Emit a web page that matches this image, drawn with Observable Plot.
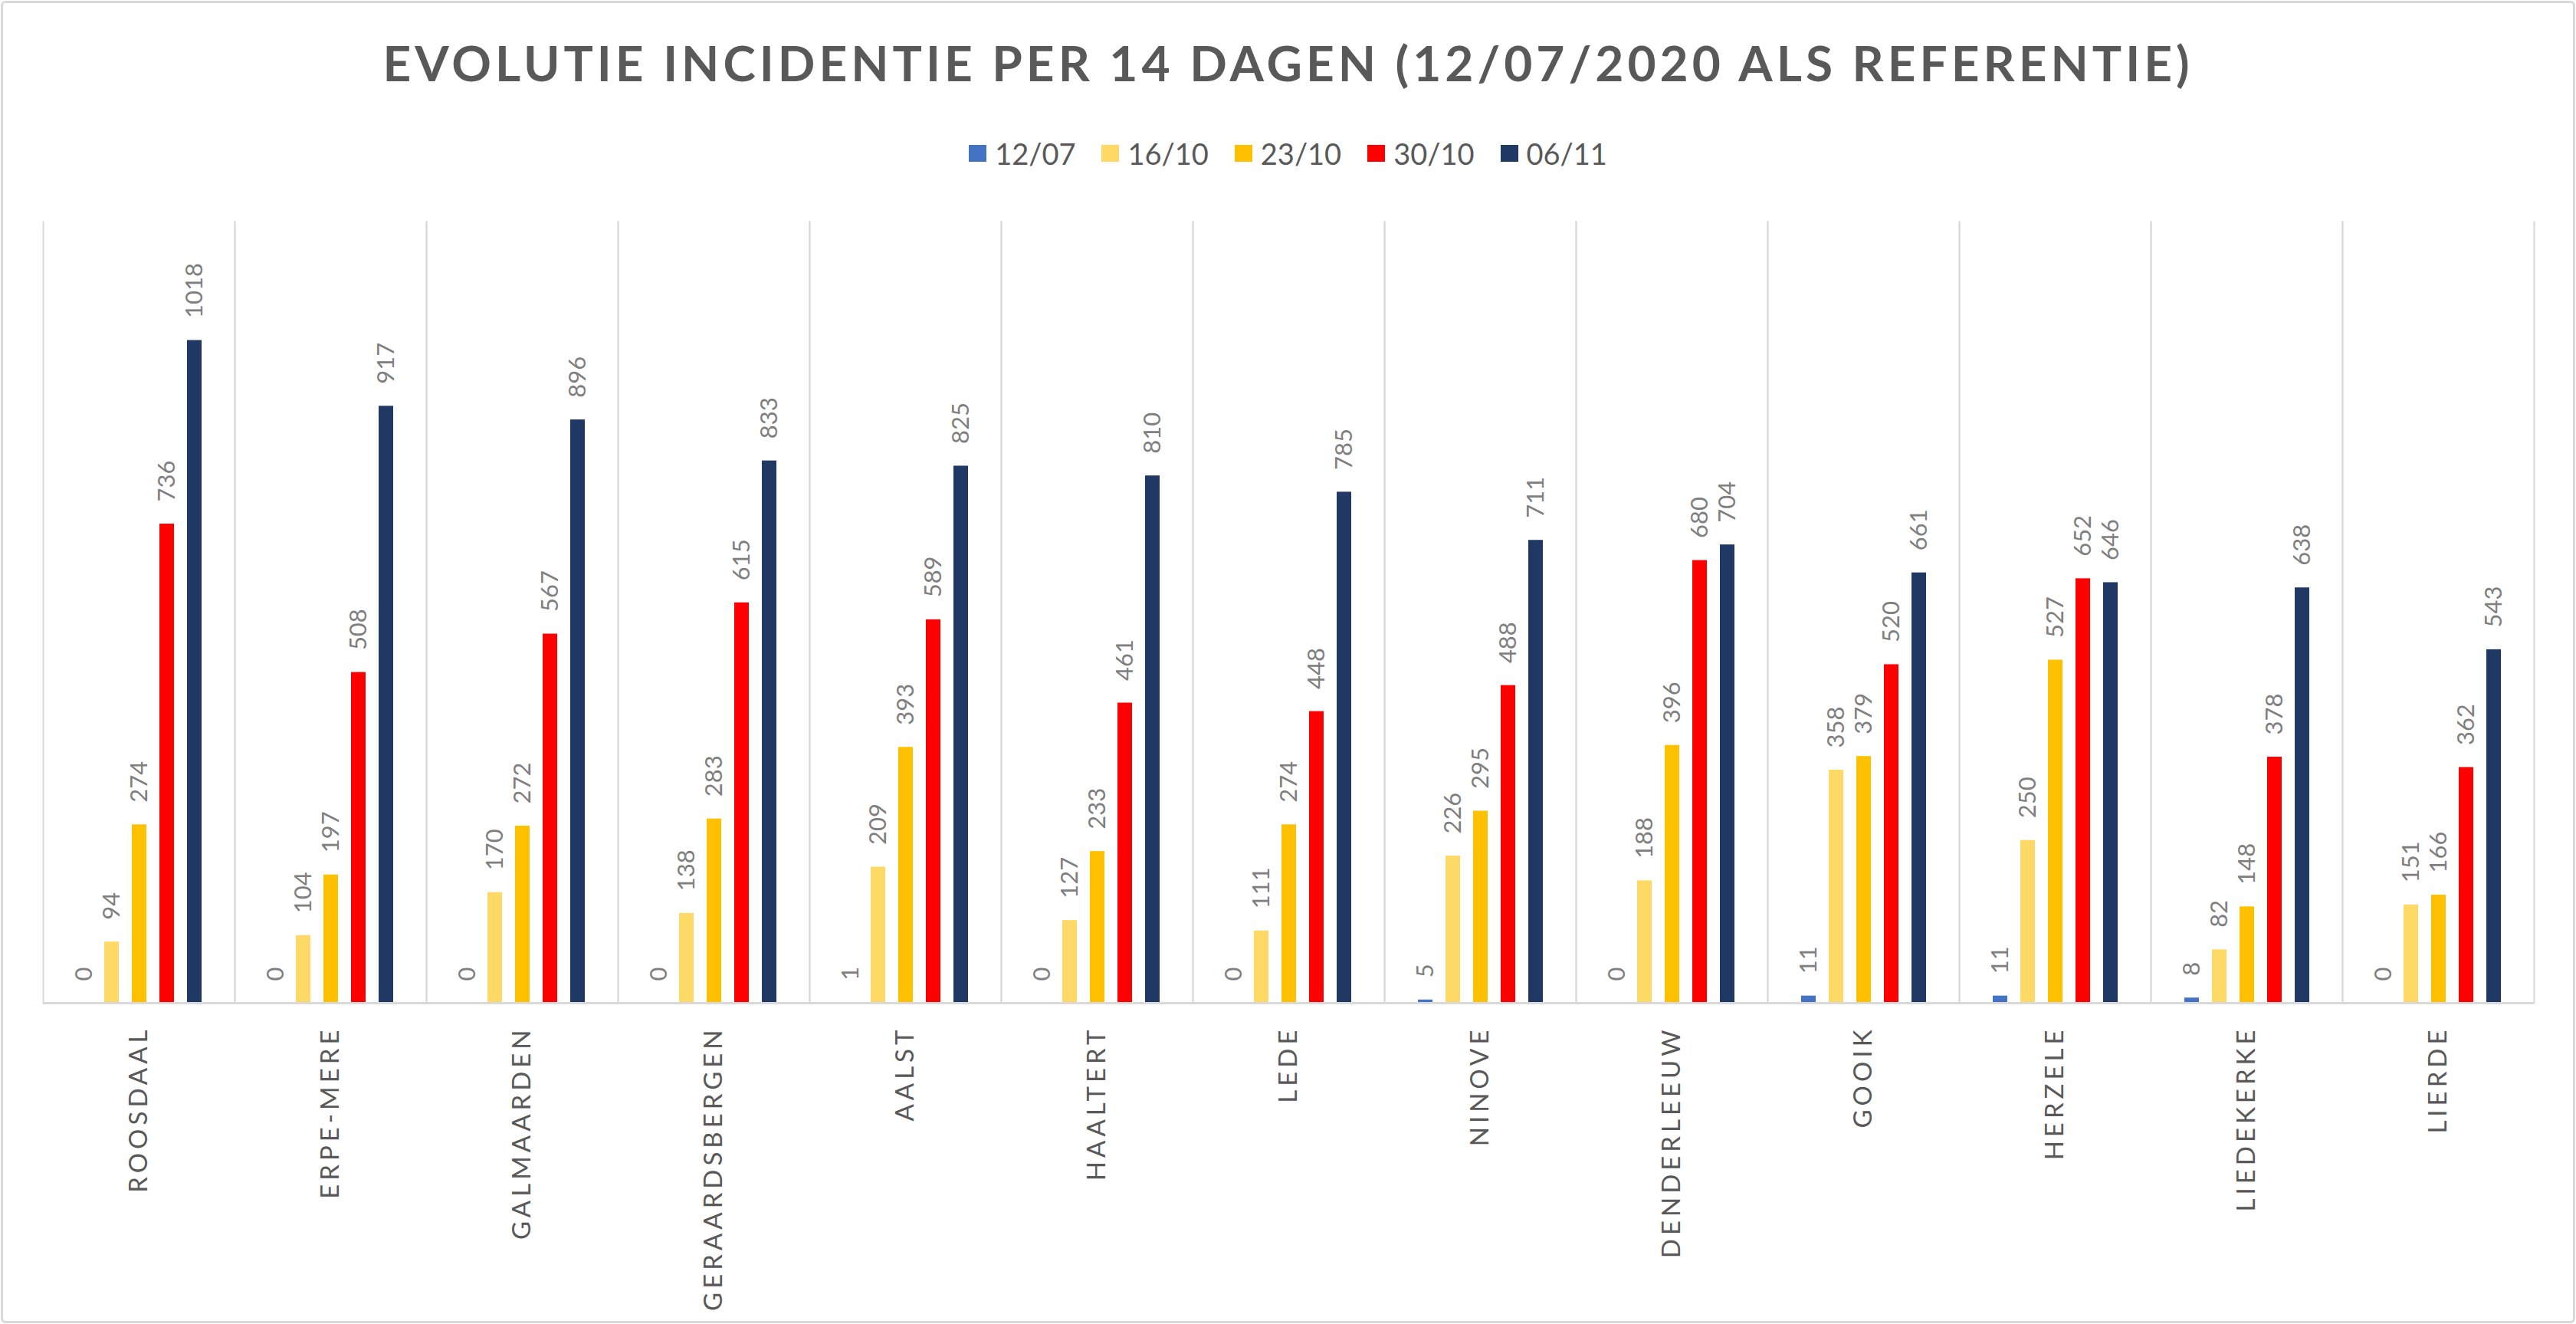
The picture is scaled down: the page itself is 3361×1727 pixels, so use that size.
<!DOCTYPE html>
<html><head><meta charset="utf-8">
<script src="https://cdn.jsdelivr.net/npm/d3@7"></script>
<script src="https://cdn.jsdelivr.net/npm/@observablehq/plot@0.6"></script>
<style>
html,body{margin:0;padding:0;background:#fff;}
#wrap{position:relative;width:3361px;height:1727px;overflow:hidden;background:#fff;}
#border{position:absolute;left:1px;top:1px;width:3359px;height:1725px;box-sizing:border-box;border:3px solid #d9d9d9;border-radius:6px;}
#title{position:absolute;left:0;width:3361px;top:50px;text-align:center;font-family:Lato;font-weight:700;font-size:64px;letter-spacing:5px;color:#595959;line-height:64px;white-space:nowrap;}
#legend{position:absolute;left:0;width:3361px;top:178px;display:flex;justify-content:center;gap:34px;font-family:Lato;font-size:38px;color:#595959;line-height:44px;}
.item{display:flex;align-items:center;gap:11px}
.sw{width:23px;height:22px;}
#chart{position:absolute;left:0;top:250px;}
#chart g[aria-label^="fx-axis"] text{letter-spacing:5px;}
</style></head><body>
<div id="wrap">
<div id="border"></div>
<div id="title">EVOLUTIE INCIDENTIE PER 14 DAGEN (12/07/2020 ALS REFERENTIE)</div>
<div id="legend"></div>
<div id="chart"></div>
</div>
<script>
const municipalities = ["ROOSDAAL","ERPE-MERE","GALMAARDEN","GERAARDSBERGEN","AALST","HAALTERT","LEDE","NINOVE","DENDERLEEUW","GOOIK","HERZELE","LIEDEKERKE","LIERDE"];
const series = ["12/07","16/10","23/10","30/10","06/11"];
const colors = ["#4472C4","#FFD966","#FFC000","#FF0000","#203864"];
const v1207 = [0,0,0,0,1,0,0,5,0,11,11,8,0];
const v1610 = [94,104,170,138,209,127,111,226,188,358,250,82,151];
const v2310 = [274,197,272,283,393,233,274,295,396,379,527,148,166];
const v3010 = [736,508,567,615,589,461,448,488,680,520,652,378,362];
const v0611 = [1018,917,896,833,825,810,785,711,704,661,646,638,543];
const seriesValues = [v1207, v1610, v2310, v3010, v0611];

const table = [];
municipalities.forEach((m, i) => {
  series.forEach((s, j) => table.push({muni: m, series: s, value: seriesValues[j][i]}));
});

// legend
const legend = document.getElementById("legend");
series.forEach((s, j) => {
  const it = document.createElement("div"); it.className = "item";
  const sw = document.createElement("div"); sw.className = "sw"; sw.style.background = colors[j];
  const tx = document.createElement("span"); tx.textContent = s;
  it.appendChild(sw); it.appendChild(tx); legend.appendChild(it);
});

const chart = Plot.plot({
  width: 3361, height: 1470,
  marginTop: 39, marginBottom: 412, marginLeft: 52, marginRight: 52,
  style: {fontFamily: "Lato", fontSize: "33px", color: "#595959", background: "transparent"},
  fx: {domain: municipalities, padding: 0, axis: "bottom", tickRotate: -90, tickSize: 0, tickPadding: 30, label: null},
  x: {domain: series, paddingInner: 0.486, paddingOuter: 1.13, axis: null},
  y: {domain: [0, 1200], axis: null},
  color: {domain: series, range: colors},
  marks: [
    Plot.frame({anchor: "left", stroke: "#d9d9d9", strokeWidth: 2}),
    Plot.frame({anchor: "right", stroke: "#d9d9d9", strokeWidth: 2}),
    Plot.barY(table, {fx: "muni", x: "series", y: "value", fill: "series"}),
    Plot.ruleY([0], {stroke: "#d9d9d9", strokeWidth: 3}),
    Plot.text(table, {fx: "muni", x: "series", y: "value", text: d => String(d.value), rotate: -90, textAnchor: "start", dy: -29, fill: "#7f7f7f", fontSize: 31, fontFamily: "Lato"})
  ]
});
document.getElementById("chart").appendChild(chart);
</script>
</body></html>
